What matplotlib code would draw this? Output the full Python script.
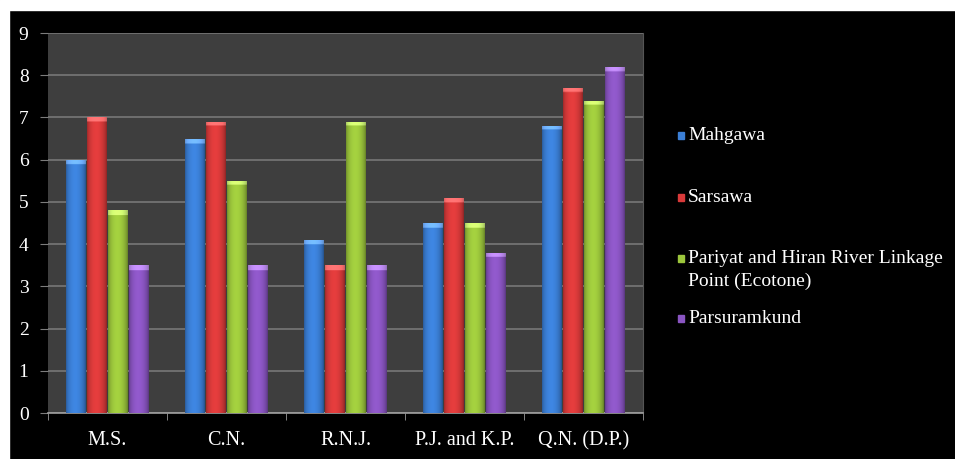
import numpy as np
import matplotlib
matplotlib.use('Agg')
import matplotlib.pyplot as plt
from matplotlib.patches import Rectangle

# sites on the x axis and one series per sampling station
sites = ['M.S.', 'C.N.', 'R.N.J.', 'P.J. and K.P.', 'Q.N. (D.P.)']
mahgawa = [6.0, 6.5, 4.1, 4.5, 6.8]
sarsawa = [7.0, 6.9, 3.5, 5.1, 7.7]
pariyat = [4.8, 5.5, 6.9, 4.5, 7.4]
parsuramkund = [3.5, 3.5, 3.5, 3.8, 8.2]

series = [mahgawa, sarsawa, pariyat, parsuramkund]
names = ['Mahgawa', 'Sarsawa', 'Pariyat and Hiran River Linkage\nPoint (Ecotone)', 'Parsuramkund']
colors = ['#3b7fd6', '#d93a3a', '#9cc63c', '#8a55c2']

plt.rcParams['font.family'] = ['Liberation Serif', 'DejaVu Serif']

fig = plt.figure(figsize=(9.55, 4.59), dpi=100, facecolor='black')
# white strip on the top and left edge
fig.patches.append(Rectangle((0, 0), 9 / 955, 1, transform=fig.transFigure, color='white', zorder=-5))
fig.patches.append(Rectangle((0, 1 - 10 / 459), 1, 10 / 459, transform=fig.transFigure, color='white', zorder=-5))

ax = fig.add_axes([48 / 955, 46 / 459, 595 / 955, 380 / 459])
ax.set_facecolor('#3e3e3e')

x = np.arange(len(sites))
w = 0.175


def shade(color, h, n=40):
    # cylinder-like horizontal shading with a lighter cap on top
    base = np.array(matplotlib.colors.to_rgb(color))
    t = np.linspace(0, 1, n)
    f = 0.72 + 0.38 * np.sin(np.pi * t) ** 0.6 - 0.08 * t
    rows = 200
    img = np.clip(base[None, None, :] * f[None, :, None] * np.ones((rows, 1, 1)), 0, 1)
    cap = max(1, int(rows * 0.13 / h))
    img[:cap] = np.clip(img[:cap] + 0.22, 0, 1)
    return img


for i, (vals, c) in enumerate(zip(series, colors)):
    bars = ax.bar(x + (i - 1.5) * w, vals, w * 0.95, color=c, zorder=3)
    for b in bars:
        bx, bw, bh = b.get_x(), b.get_width(), b.get_height()
        im = ax.imshow(shade(c, bh), extent=(bx, bx + bw, 0, bh), aspect='auto',
                       zorder=4, interpolation='bilinear')
        im.set_clip_path(b)

ax.set_xlim(-0.5, len(sites) - 0.5)
ax.set_ylim(0, 9)
ax.set_yticks(range(0, 10))
ax.yaxis.grid(True, color='#7c7c7c', linewidth=1.1, zorder=1)
ax.set_axisbelow(True)

ax.set_xticks(x)
ax.set_xticklabels(sites)
ax.set_xticks(np.arange(-0.5, len(sites)), minor=True)
ax.tick_params(axis='x', which='major', length=0, pad=13, labelsize=14.5, colors='white')
ax.tick_params(axis='x', which='minor', length=5, color='#9a9a9a', direction='out')
ax.tick_params(axis='y', length=6, pad=8, labelsize=14, colors='white')
ax.tick_params(axis='y', color='#7c7c7c')

for s in ['top', 'left']:
    ax.spines[s].set_visible(False)
ax.spines['right'].set_color('#555555')
ax.spines['bottom'].set_color('#a0a0a0')
ax.spines['bottom'].set_linewidth(1.2)

# legend on the right: marker sits beside the first line of each entry
legend_y = [135, 197, 258, 318]
for name, c, yy in zip(names, colors, legend_y):
    fy = 1 - yy / 459
    fig.patches.append(Rectangle((678 / 955, fy - 3.5 / 459), 6 / 955, 7 / 459,
                                 transform=fig.transFigure, color=c))
    fig.text(688 / 955, fy + 8 / 459, name, color='white', fontsize=14, va='top', ha='left',
             linespacing=1.45)

fig.savefig('out.png', dpi=100, facecolor='black')
